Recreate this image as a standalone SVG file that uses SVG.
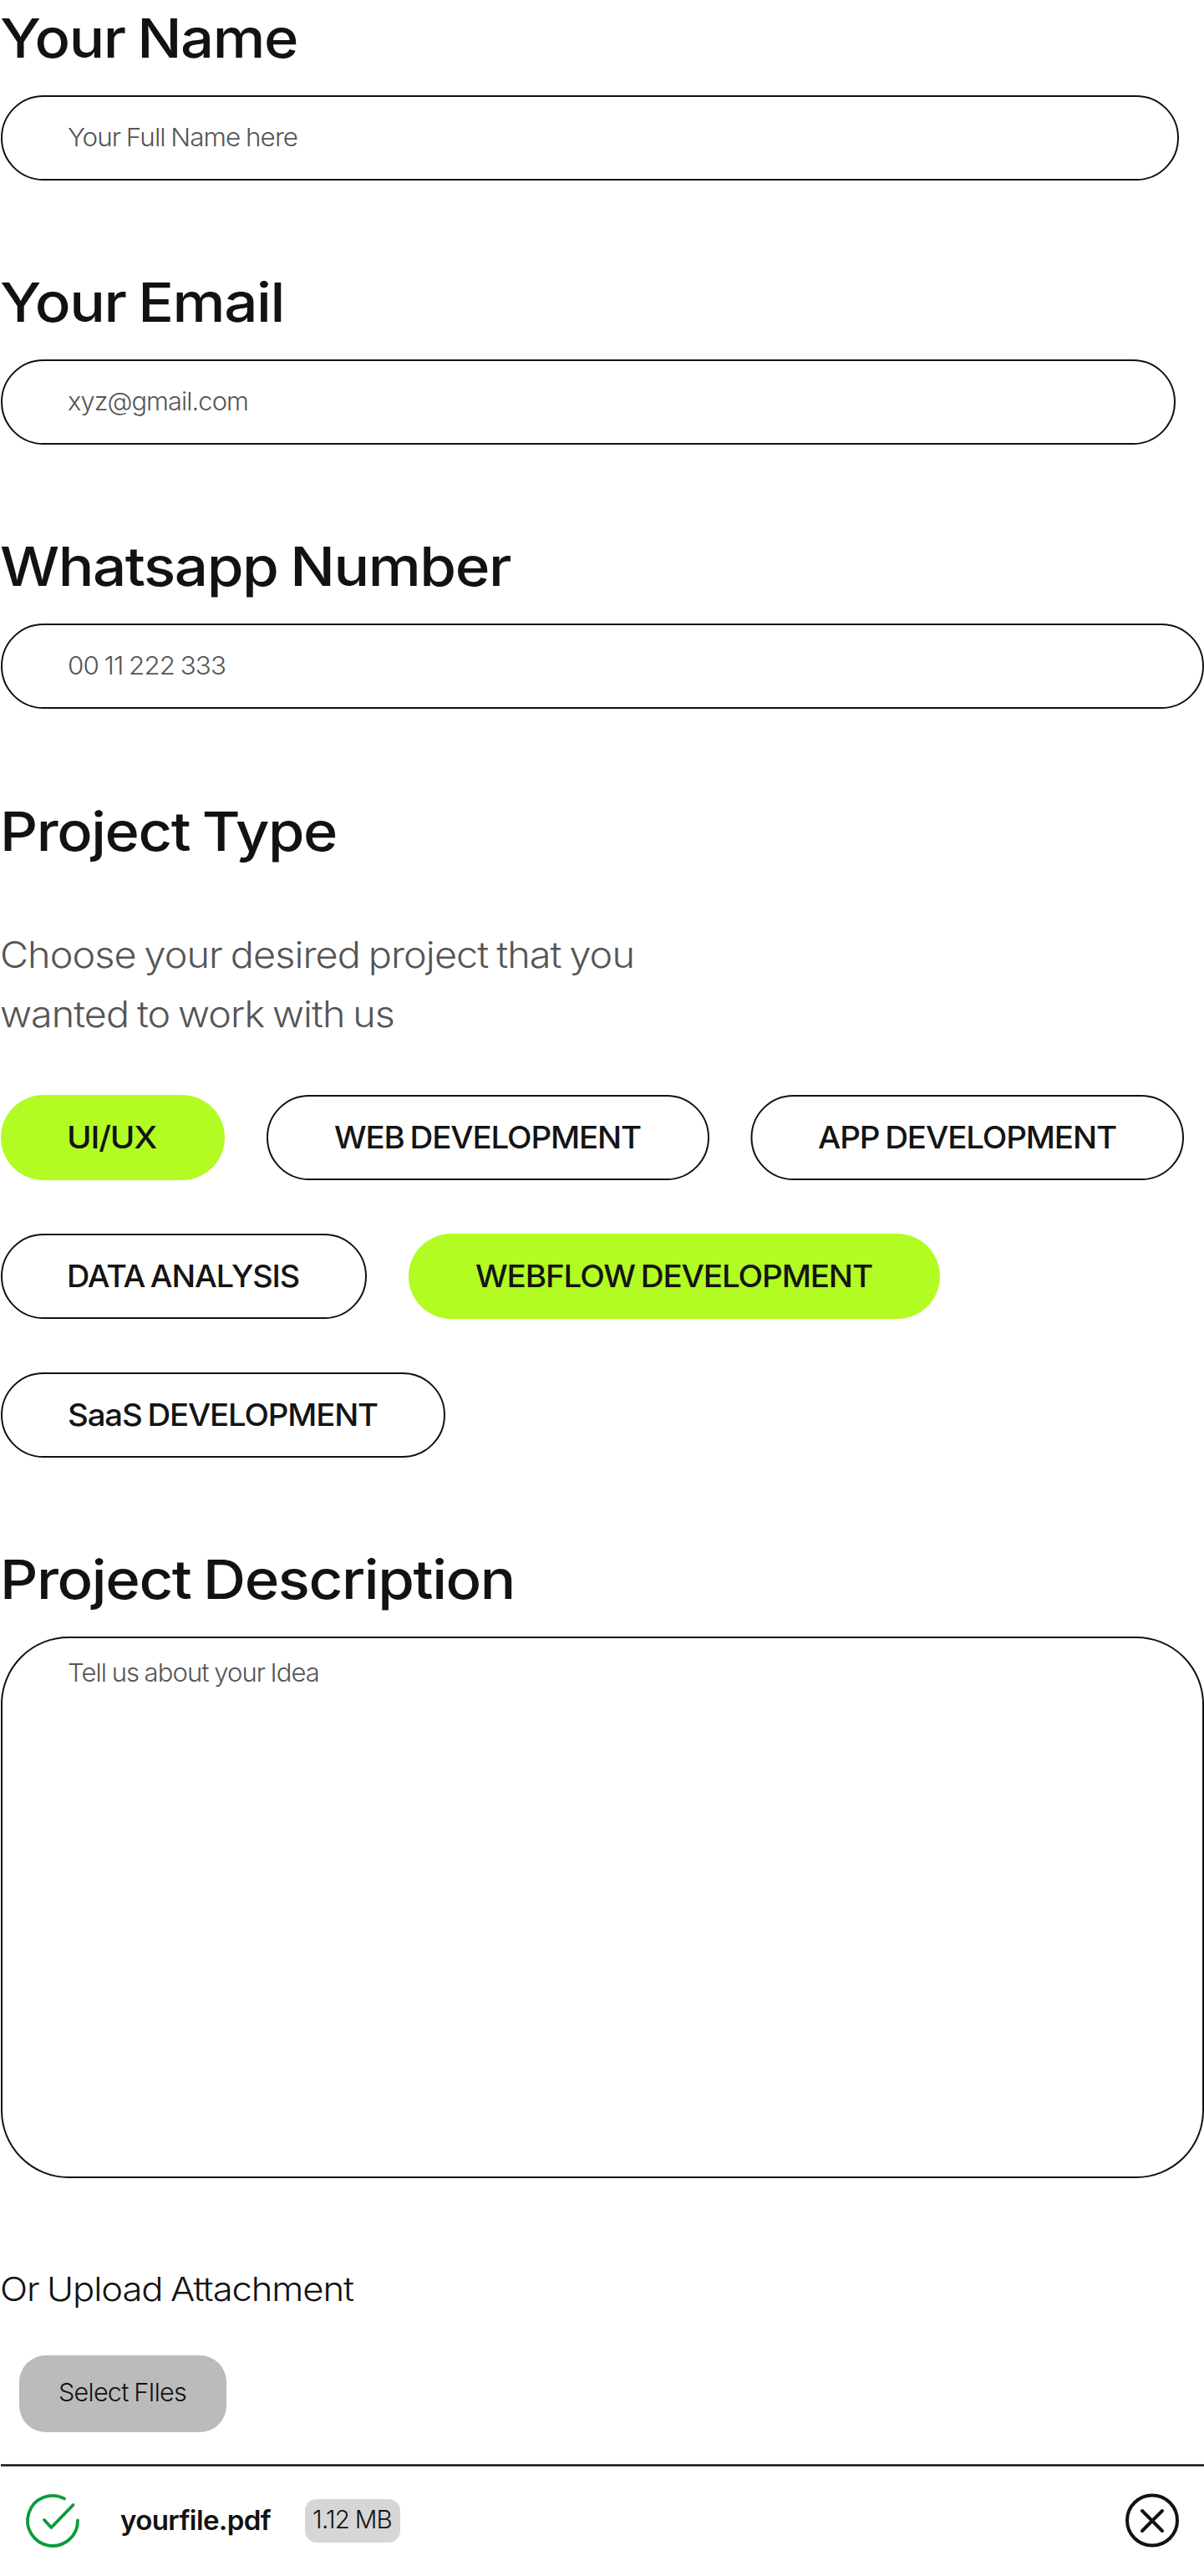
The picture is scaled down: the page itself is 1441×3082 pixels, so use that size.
<svg xmlns="http://www.w3.org/2000/svg" width="1441" height="3082" viewBox="0 0 1441 3082">
<style>
text{font-family:"Inter","Liberation Sans",sans-serif}
.h{font-size:65px;font-weight:500;fill:#121212;letter-spacing:-.02em;word-spacing:-.04em}
.ph{font-size:30px;font-weight:300;fill:#555;letter-spacing:-.03em;word-spacing:-.04em}
.sub{font-size:43px;font-weight:300;fill:#555;letter-spacing:-.02em;word-spacing:-.05em}
.pill{font-size:37px;font-weight:500;fill:#141414;letter-spacing:-.03em;word-spacing:-.06em}
.sm{font-weight:300;fill:#121212;letter-spacing:-.025em;word-spacing:-.04em}
.box{fill:#fff;stroke:#111;stroke-width:2}
.on{fill:#b2fb23}
.ok{fill:none;stroke:#0a9c3b;stroke-width:3.8;stroke-linecap:round;stroke-linejoin:round}
.x{fill:none;stroke:#121212;stroke-width:4;stroke-linecap:round}
</style>
<rect width="1441" height="3082" fill="#fff"/>
<g id="name-field"><text class="h" x="0" y="69" textLength="356" lengthAdjust="spacingAndGlyphs">Your Name</text><rect class="box" x="2" y="115" width="1408" height="100" rx="50"/><text class="ph" x="81" y="175" textLength="275" lengthAdjust="spacingAndGlyphs">Your Full Name here</text></g>
<g id="email-field"><text class="h" x="0" y="385" textLength="340" lengthAdjust="spacingAndGlyphs">Your Email</text><rect class="box" x="2" y="431" width="1404" height="100" rx="50"/><text class="ph" x="81" y="491" textLength="216" lengthAdjust="spacingAndGlyphs">xyz@gmail.com</text></g>
<g id="whatsapp-field"><text class="h" x="0" y="701" textLength="611" lengthAdjust="spacingAndGlyphs">Whatsapp Number</text><rect class="box" x="2" y="747" width="1438" height="100" rx="50"/><text class="ph" x="81" y="807" textLength="189" lengthAdjust="spacingAndGlyphs">00 11 222 333</text></g>
<g id="project-type"><text class="h" x="0" y="1018" textLength="403" lengthAdjust="spacingAndGlyphs">Project Type</text><text class="sub" x="0" y="1157.5" textLength="759" lengthAdjust="spacingAndGlyphs">Choose your desired project that you</text><text class="sub" x="0" y="1229" textLength="472" lengthAdjust="spacingAndGlyphs">wanted to work with us</text></g>
<g id="pill-uiux"><rect class="on" x="1" y="1310" width="268" height="102" rx="51"/><text class="pill" x="80" y="1374" textLength="107" lengthAdjust="spacingAndGlyphs">UI/UX</text></g>
<g id="pill-web"><rect class="box" x="320" y="1311" width="528" height="100" rx="50"/><text class="pill" x="400" y="1374" textLength="367" lengthAdjust="spacingAndGlyphs">WEB DEVELOPMENT</text></g>
<g id="pill-app"><rect class="box" x="899.5" y="1311" width="516.5" height="100" rx="50"/><text class="pill" x="979" y="1374" textLength="357" lengthAdjust="spacingAndGlyphs">APP DEVELOPMENT</text></g>
<g id="pill-data"><rect class="box" x="2" y="1477" width="436" height="100" rx="50"/><text class="pill" x="80" y="1540" textLength="278" lengthAdjust="spacingAndGlyphs">DATA ANALYSIS</text></g>
<g id="pill-webflow"><rect class="on" x="489" y="1476" width="636" height="102" rx="51"/><text class="pill" x="569" y="1540" textLength="475" lengthAdjust="spacingAndGlyphs">WEBFLOW DEVELOPMENT</text></g>
<g id="pill-saas"><rect class="box" x="2" y="1643" width="530" height="100" rx="50"/><text class="pill" x="81" y="1706" textLength="371" lengthAdjust="spacingAndGlyphs">SaaS DEVELOPMENT</text></g>
<g id="description"><text class="h" x="0" y="1913" textLength="616" lengthAdjust="spacingAndGlyphs">Project Description</text><rect class="box" x="2" y="1959" width="1438" height="646" rx="80"/><text class="ph" x="81" y="2012" textLength="301" lengthAdjust="spacingAndGlyphs">Tell us about your Idea</text></g>
<g id="upload"><text class="sm" x="0" y="2753" font-size="40" textLength="423" lengthAdjust="spacingAndGlyphs">Or Upload Attachment</text><rect x="23" y="2818" width="248" height="92" rx="32" fill="#bbb"/><text class="sm" x="70" y="2873" font-size="30" textLength="153" lengthAdjust="spacingAndGlyphs">Select FIles</text></g>
<g id="file-row"><line x1="1" y1="2949.5" x2="1441" y2="2949.5" stroke="#121212" stroke-width="2.6"/>
<path class="ok" d="M77 2989.4A30 30 0 1 0 93 3015.5"/><path class="ok" d="M53 3015L61.4 3024L87.5 2997"/>
<text x="144" y="3027" font-size="32" font-weight="600" fill="#121212" letter-spacing="-.6" textLength="180" lengthAdjust="spacingAndGlyphs">yourfile.pdf</text>
<rect x="365" y="2990" width="114" height="52" rx="14" fill="#d6d6d6"/><text class="sm" x="374" y="3025" font-size="30" textLength="95" lengthAdjust="spacingAndGlyphs">1.12 MB</text>
<circle class="x" cx="1379" cy="3015.5" r="30"/><path class="x" d="M1367 3004L1391 3028M1391 3004L1367 3028"/></g>
</svg>
